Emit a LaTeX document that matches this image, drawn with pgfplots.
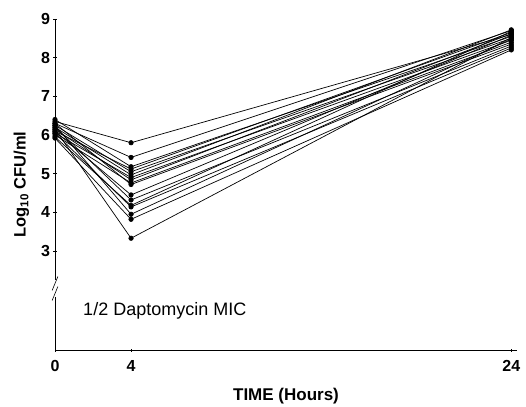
\documentclass[border=0pt]{standalone}
\usepackage{fontspec}
\setmainfont{Liberation Sans}
\usepackage{pgfplots}
\pgfplotsset{compat=1.18}
\begin{document}
\begin{tikzpicture}
\useasboundingbox (0,0) rectangle (526pt,406pt);
\begin{axis}[
  at={(55pt,56pt)}, anchor=south west,
  scale only axis, width=462pt, height=331pt,
  xmin=0, xmax=24.3, ymin=0.44, ymax=9,
  axis lines=left, axis line style={-, line width=0.6pt},
  xtick={0,4,24}, ytick={3,4,5,6,7,8,9},
  tick style={black, line width=0.5pt},
  major tick length=3pt,
  /pgf/number format/assume math mode=true,
  ticklabel style={font=\bfseries\fontsize{16}{16}\selectfont},
  xticklabel style={yshift=-5pt},
  xlabel={\bfseries TIME (Hours)},
  ylabel={\bfseries Log\textsubscript{10} CFU/ml},
  xlabel style={font=\fontsize{17}{17}\selectfont, at={(axis description cs:0.5,0)}, yshift=-35pt},
  ylabel style={font=\fontsize{16.5}{16.5}\selectfont, yshift=5pt},
  clip=false,
  every axis plot post/.append style={black, solid, line width=0.7pt, mark=*, mark size=2.2pt, mark options={solid, fill=black, draw=black}},
]
\addplot coordinates {(0,6.35) (4,5.80) (24,8.60)};
\addplot coordinates {(0,6.30) (4,5.42) (24,8.70)};
\addplot coordinates {(0,6.40) (4,5.18) (24,8.55)};
\addplot coordinates {(0,6.10) (4,5.12) (24,8.65)};
\addplot coordinates {(0,6.25) (4,5.05) (24,8.50)};
\addplot coordinates {(0,6.20) (4,4.97) (24,8.72)};
\addplot coordinates {(0,6.05) (4,4.90) (24,8.45)};
\addplot coordinates {(0,6.15) (4,4.84) (24,8.62)};
\addplot coordinates {(0,6.00) (4,4.76) (24,8.40)};
\addplot coordinates {(0,6.30) (4,4.72) (24,8.35)};
\addplot coordinates {(0,6.10) (4,4.45) (24,8.58)};
\addplot coordinates {(0,6.20) (4,4.32) (24,8.30)};
\addplot coordinates {(0,5.95) (4,4.18) (24,8.68)};
\addplot coordinates {(0,6.05) (4,4.14) (24,8.25)};
\addplot coordinates {(0,6.25) (4,3.95) (24,8.48)};
\addplot coordinates {(0,5.92) (4,3.82) (24,8.20)};
\addplot coordinates {(0,6.15) (4,3.33) (24,8.52)};
% axis break
\fill[white] (axis cs:-0.3,1.82) rectangle (axis cs:0.3,2.25);
\draw[line width=0.6pt] (axis cs:-0.15,1.72) -- (axis cs:0.15,2.08);
\draw[line width=0.6pt] (axis cs:-0.15,1.98) -- (axis cs:0.15,2.34);
\node[anchor=west, font=\fontsize{18}{18}\selectfont] at (axis cs:1.3,1.45) {1/2 Daptomycin MIC};
\end{axis}
\end{tikzpicture}
\end{document}
